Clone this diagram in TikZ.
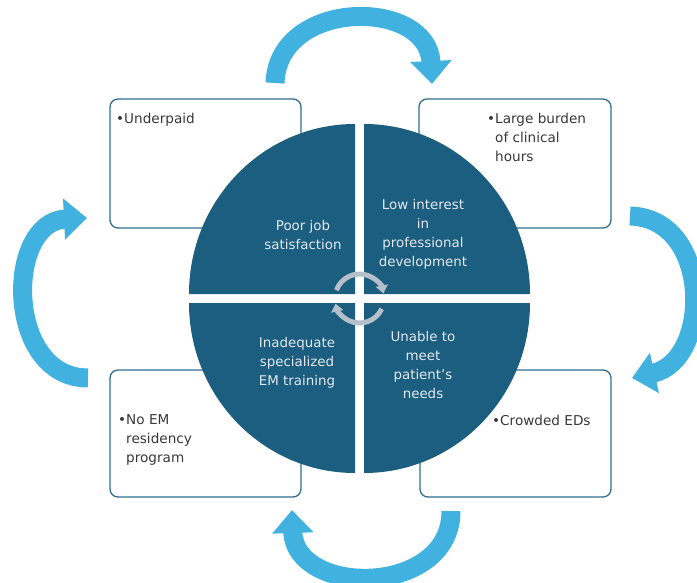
\documentclass[tikz,border=0pt]{standalone}
\usepackage{fontspec}
\setmainfont{DejaVu Sans}
\usetikzlibrary{arrows.meta}

\definecolor{quadblue}{HTML}{1B5E7F}
\definecolor{boxline}{HTML}{2F6E8E}
\definecolor{boxtext}{HTML}{383838}
\definecolor{quadtext}{HTML}{E2E8ED}
\definecolor{cycleblue}{HTML}{41B2E0}
\definecolor{spingray}{HTML}{B6C0CA}

\begin{document}
\begin{tikzpicture}[x=1pt,y=-1pt,
    box/.style={draw=boxline, line width=1.3pt, rounded corners=8pt, fill=white},
    item/.style={font=\fontsize{13.6}{19}\selectfont, text=boxtext, align=left, inner sep=0pt, anchor=north west},
    quadlabel/.style={font=\fontsize{13.4}{19}\selectfont, text=quadtext, align=center, inner sep=0pt, anchor=north},
    quad/.style={fill=quadblue},
    cyclearr/.style={draw=cycleblue, line width=19pt, -{Triangle[length=23pt,width=40pt]}},
    spin/.style={draw=spingray, line width=5pt, -{Triangle[length=8pt,width=12pt]}}]
  \useasboundingbox (0,0) rectangle (697,582);

  % four outer boxes
  \node[box, minimum width=191pt, minimum height=129pt] (underpaid) at (205.5,163.5) {};
  \node[box, minimum width=192pt, minimum height=129pt] (burden) at (515,163.5) {};
  \node[box, minimum width=191pt, minimum height=127pt] (noem) at (205.5,433.5) {};
  \node[box, minimum width=191pt, minimum height=127pt] (crowded) at (515.5,433.5) {};

  \node[item] (underpaid-txt) at (116,112.5) {•Underpaid};
  \node[item] (burden-txt) at (487,112.5) {•Large burden\\\phantom{•}of clinical\\\phantom{•}hours};
  \node[item] (noem-txt) at (118,414.5) {•No EM\\\phantom{•}residency\\\phantom{•}program};
  \node[item] (crowded-txt) at (492,414.5) {•Crowded EDs};

  % split disc in the middle
  \fill[quad] (355,294) -- (189,294) arc[start angle=180, end angle=270, x radius=166, y radius=170] -- cycle;
  \fill[quad] (364,294) -- (530,294) arc[start angle=0, end angle=-90, x radius=166, y radius=170] -- cycle;
  \fill[quad] (355,303) -- (189,303) arc[start angle=180, end angle=90, x radius=166, y radius=170] -- cycle;
  \fill[quad] (364,303) -- (530,303) arc[start angle=0, end angle=90, x radius=166, y radius=170] -- cycle;

  \node[quadlabel] (poor) at (303,220.5) {Poor job\\satisfaction};
  \node[quadlabel] (interest) at (423,199.5) {Low interest\\in\\professional\\development};
  \node[quadlabel] (training) at (297,337.5) {Inadequate\\specialized\\EM training};
  \node[quadlabel] (needs) at (423,331.5) {Unable to\\meet\\patient's\\needs};

  % small turning arrows at the centre
  \coordinate (hub) at (359.5,298.5);
  \draw[spin] (hub) ++(-160:24.5) arc[start angle=-160, end angle=-12, radius=24.5];
  \draw[spin] (hub) ++(25:24.5) arc[start angle=25, end angle=168, radius=24.5];

  % big arrows going round the boxes
  \coordinate (top-a) at (275,83);   \coordinate (top-b) at (432,84);
  \coordinate (right-a) at (630,216); \coordinate (right-b) at (632,378);
  \coordinate (bot-a) at (451,511);  \coordinate (bot-b) at (292,510);
  \coordinate (left-a) at (88,378);  \coordinate (left-b) at (87,218);
  \draw[cyclearr] (top-a) .. controls (278,-2) and (428,-2) .. (top-b);
  \draw[cyclearr] (right-a) .. controls (712,218) and (712,360) .. (right-b);
  \draw[cyclearr] (bot-a) .. controls (451,597) and (295,597) .. (bot-b);
  \draw[cyclearr] (left-a) .. controls (5,378) and (5,222) .. (left-b);
\end{tikzpicture}
\end{document}
